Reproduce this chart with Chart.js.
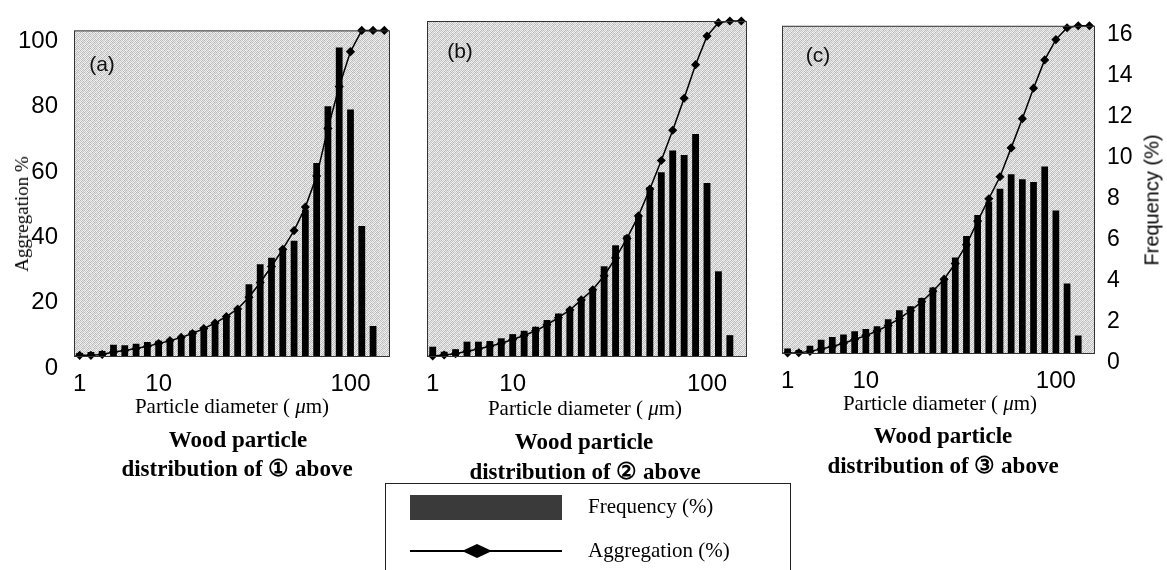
<!DOCTYPE html>
<html>
<head>
<meta charset="utf-8">
<script src="https://cdn.jsdelivr.net/npm/chart.js@4.4.1/dist/chart.umd.min.js"></script>
<style>
    body { margin: 0; background: #fff; width: 1167px; height: 570px; overflow: hidden; position: relative; font-family: 'Liberation Serif', serif; color: #000; }
    canvas { position: absolute; top: 0; }
    .cap { position: absolute; white-space: nowrap; transform: translate(-50%, -50%); }
    .small { font-size: 21px; }
    .big { font-size: 23px; font-weight: bold; }
    .rot { position: absolute; white-space: nowrap; transform: translate(-50%, -50%) rotate(-90deg); }
    #legend { position: absolute; left: 385px; top: 483px; width: 404px; height: 100px; border: 1px solid #222; }
    #legend div { position: absolute; }
</style>
</head>
<body>
<canvas id="chartA" width="405" height="400" style="left:0px"></canvas>
<canvas id="chartB" width="360" height="400" style="left:405px"></canvas>
<canvas id="chartC" width="402" height="400" style="left:765px"></canvas>

<div class="rot" style="left:22px; top:214px; font-size:19px;">Aggregation %</div>
<div class="rot" style="left:1152px; top:200px; font-size:20px; font-family:'Liberation Sans', sans-serif;">Frequency (%)</div>

<div class="cap small" style="left:232px; top:406px;">Particle diameter ( <i>μ</i>m)</div>
<div class="cap big" style="left:238px; top:440px;">Wood particle</div>
<div class="cap big" style="left:237px; top:468px;">distribution of ① above</div>

<div class="cap small" style="left:585px; top:408px;">Particle diameter ( <i>μ</i>m)</div>
<div class="cap big" style="left:584px; top:442px;">Wood particle</div>
<div class="cap big" style="left:585px; top:471px;">distribution of ② above</div>

<div class="cap small" style="left:940px; top:403px;">Particle diameter ( <i>μ</i>m)</div>
<div class="cap big" style="left:943px; top:436px;">Wood particle</div>
<div class="cap big" style="left:943px; top:465px;">distribution of ③ above</div>

<div id="legend">
    <div style="left:24px; top:11px; width:152px; height:25px; background:#3a3a3a;"></div>
    <div style="left:202px; top:10px; font-size:21px;">Frequency (%)</div>
    <div style="left:24px; top:66px; width:152px; height:0; border-top:2px solid #000;"></div>
    <div style="left:76px; top:60px; width:30px; height:14px; background:#000; clip-path:polygon(50% 0, 100% 50%, 50% 100%, 0 50%);"></div>
    <div style="left:202px; top:54px; font-size:21px;">Aggregation (%)</div>
</div>

<script>
// particle size bins (log spaced), only 1, 10 and 100 get a label
const xLabels = ['1', '', '', '', '', '', '', '10', '', '', '', '', '', '', '', '', '', '', '', '', '', '', '', '', '100', '', '', ''];

// frequency (%) - bars, right axis
const freqA = [0.2, 0.25, 0.3, 0.6, 0.57, 0.65, 0.73, 0.8, 0.89, 1.0, 1.28, 1.47, 1.68, 2.0, 2.3, 3.56, 4.54, 4.86, 5.3, 5.7, 7.22, 9.51, 12.28, 15.16, 12.12, 6.42, 1.52, null];
const freqB = [0.49, 0.25, 0.37, 0.73, 0.73, 0.76, 0.89, 1.09, 1.25, 1.44, 1.76, 2.07, 2.31, 2.79, 3.18, 4.32, 5.32, 5.79, 6.77, 8.09, 8.8, 9.83, 9.62, 10.62, 8.28, 4.08, 1.04, null];
const freqC = [0.27, 0.19, 0.4, 0.7, 0.83, 0.95, 1.11, 1.22, 1.35, 1.7, 2.13, 2.33, 2.73, 3.24, 3.71, 4.71, 5.75, 6.78, 7.43, 8.05, 8.76, 8.52, 8.38, 9.14, 7.0, 3.44, 0.9, null];

// aggregation (%) - line, left axis
const aggA = [0.5, 0.5, 0.8, 1.5, 2, 2.6, 3.3, 4.1, 5, 6, 7.2, 8.7, 10.4, 12.4, 14.7, 18.3, 22.8, 27.7, 33, 38.7, 45.9, 55.4, 70, 82.8, 93.5, 100, 100, 100];
const aggB = [0.3, 0.6, 1.0, 1.7, 2.4, 3.2, 4.1, 5.2, 6.4, 7.8, 9.6, 11.7, 14, 17, 20, 24.2, 29.5, 35.3, 42, 50, 58.5, 67.5, 77, 87, 95.5, 99.5, 100, 100];
const aggC = [0.3, 0.4, 0.8, 1.5, 2.3, 3.3, 4.4, 5.6, 7, 8.7, 10.8, 13.2, 15.9, 19.1, 22.8, 27.6, 33.3, 40.5, 47.3, 54, 62.8, 71.7, 81, 89.6, 95.8, 99.4, 100, 100];

// mottled grey like the printed screen tone
const tone = [
    '#bdbdbd', '#e8e8e8', '#cfcfcf', '#f2f2f2', '#b4b4b4', '#e0e0e0',
    '#eeeeee', '#c4c4c4', '#f4f4f4', '#bcbcbc', '#e6e6e6', '#cacaca',
    '#d2d2d2', '#f0f0f0', '#b8b8b8', '#e4e4e4', '#c8c8c8', '#f2f2f2',
    '#f2f2f2', '#c0c0c0', '#e2e2e2', '#cccccc', '#f0f0f0', '#b6b6b6',
    '#b8b8b8', '#e6e6e6', '#cacaca', '#f4f4f4', '#bebebe', '#e4e4e4',
    '#e8e8e8', '#cdcdcd', '#f0f0f0', '#b8b8b8', '#ececec', '#c6c6c6',
];
const tile = document.createElement('canvas');
tile.width = 6;
tile.height = 6;
const tc = tile.getContext('2d');
tone.forEach((c, i) => {
    tc.fillStyle = c;
    tc.fillRect(i % 6, Math.floor(i / 6), 1, 1);
});

const panelBg = {
    id: 'panelBg',
    beforeDraw(chart, args, opts) {
        const { ctx, chartArea: a } = chart;
        ctx.save();
        ctx.fillStyle = ctx.createPattern(tile, 'repeat');
        ctx.fillRect(a.left, a.top, a.right - a.left, a.bottom - a.top);
        ctx.restore();
    },
    afterDraw(chart, args, opts) {
        const { ctx, chartArea: a } = chart;
        ctx.save();
        ctx.strokeStyle = '#333';
        ctx.lineWidth = 1;
        ctx.strokeRect(a.left + 0.5, a.top + 0.5, a.right - a.left - 1, a.bottom - a.top - 1);
        ctx.fillStyle = '#111';
        ctx.font = '21px "Liberation Sans", sans-serif';
        ctx.textAlign = 'center';
        ctx.textBaseline = 'middle';
        ctx.fillText(opts.tag, a.left + opts.tx, a.top + opts.ty);
        ctx.restore();
    }
};

const tickFont = { family: 'Liberation Sans', size: 24 };
const noGrid = { display: false, drawTicks: false };

function makePanel(id, freq, agg, o) {
    const ctx = document.getElementById(id).getContext('2d');
    return new Chart(ctx, {
        type: 'bar',
        data: {
            labels: xLabels,
            datasets: [
                {
                    type: 'line',
                    label: 'Aggregation (%)',
                    data: agg,
                    yAxisID: 'y',
                    borderColor: '#000',
                    borderWidth: 1.5,
                    pointStyle: 'rectRot',
                    pointRadius: 3.5,
                    pointBackgroundColor: '#000',
                    pointBorderColor: '#000',
                    tension: 0,
                    clip: false,
                    order: 0,
                },
                {
                    label: 'Frequency (%)',
                    data: freq,
                    yAxisID: 'y1',
                    backgroundColor: '#000',
                    barPercentage: 0.6,
                    categoryPercentage: 1,
                    order: 1,
                },
            ]
        },
        options: {
            responsive: false,
            animation: false,
            layout: { padding: o.padding },
            plugins: {
                legend: { display: false },
                tooltip: { enabled: false },
                panelBg: { tag: o.tag, tx: o.tx, ty: o.ty }
            },
            scales: {
                x: {
                    grid: noGrid,
                    border: { display: false },
                    ticks: { autoSkip: false, maxRotation: 0, padding: 13, color: '#000', font: tickFont },
                    afterFit: s => { s.height = o.xh; }
                },
                y: {
                    position: 'left',
                    display: o.left,
                    min: 0,
                    max: 100,
                    grid: noGrid,
                    border: { display: false },
                    ticks: { stepSize: 20, padding: 16, labelOffset: 11, color: '#000', font: tickFont },
                    afterFit: s => { if (o.left) s.width = 74; }
                },
                y1: {
                    position: 'right',
                    display: o.right,
                    min: 0,
                    max: 16,
                    grid: noGrid,
                    border: { display: false },
                    ticks: { stepSize: 2, padding: 12, labelOffset: 9, color: '#000', font: { family: 'Liberation Sans', size: 23 } },
                    afterFit: s => { if (o.right) s.width = 72; }
                }
            }
        },
        plugins: [panelBg]
    });
}

makePanel('chartA', freqA, aggA, { left: true, right: false, xh: 43, padding: { left: 0, right: 15, top: 20, bottom: 0 }, tag: '(a)', tx: 28, ty: 35 });
makePanel('chartB', freqB, aggB, { left: false, right: false, xh: 43, padding: { left: 22, right: 18, top: 21, bottom: 0 }, tag: '(b)', tx: 33, ty: 31 });
makePanel('chartC', freqC, aggC, { left: false, right: true, xh: 46, padding: { left: 17, right: 0, top: 18, bottom: 0 }, tag: '(c)', tx: 36, ty: 30 });
</script>
</body>
</html>
